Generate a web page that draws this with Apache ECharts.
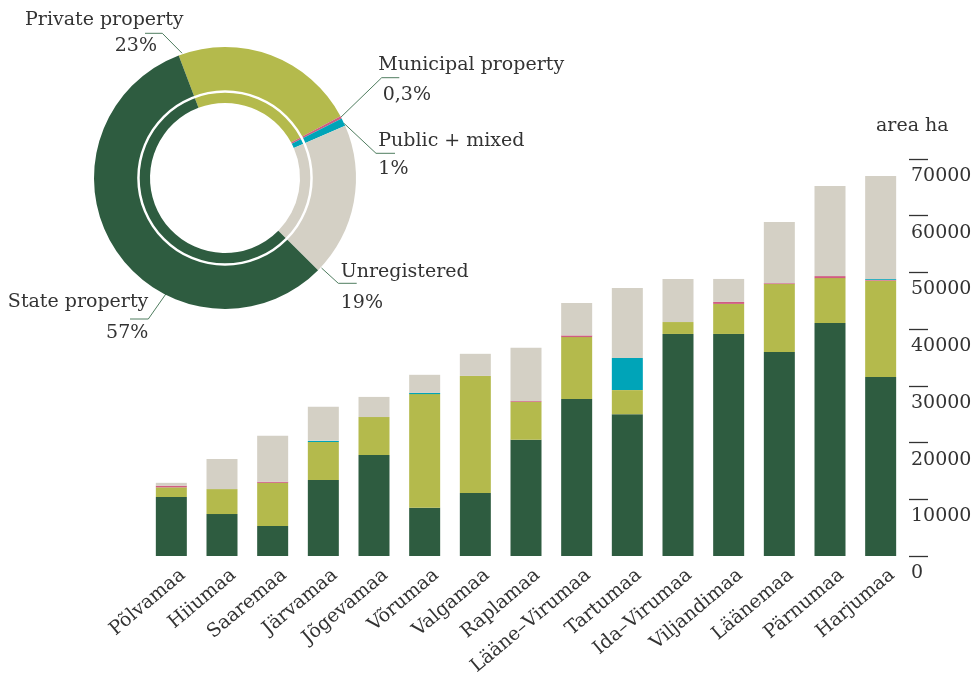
<!DOCTYPE html>
<html>
<head>
<meta charset="utf-8">
<script src="https://cdn.jsdelivr.net/npm/echarts@6/dist/echarts.min.js"></script>
<style>
  html, body { margin: 0; padding: 0; background: #ffffff; }
  #chart { width: 975px; height: 684px; }
</style>
</head>
<body>
<div id="chart"></div>
<script>
// Land area by ownership type in each county (hectares)
const counties = ['Põlvamaa', 'Hiiumaa', 'Saaremaa', 'Järvamaa', 'Jõgevamaa', 'Võrumaa', 'Valgamaa',
  'Raplamaa', 'Lääne–Virumaa', 'Tartumaa', 'Ida–Virumaa', 'Viljandimaa', 'Läänemaa', 'Pärnumaa', 'Harjumaa'];
const stateArea        = [10400, 7400, 5300, 13400, 17800, 8500, 11100, 20500, 27700, 25000, 39150, 39150, 35950, 41100, 31550];
const privateArea      = [1700, 4400, 7600, 6700, 6700, 20050, 20650, 6700, 10900, 4250, 2100, 5300, 12000, 7900, 17000];
const municipalArea    = [300, 0, 200, 0, 0, 0, 0, 150, 300, 0, 0, 350, 150, 350, 150];
const publicMixedArea  = [0, 0, 0, 200, 0, 200, 0, 0, 0, 5650, 0, 0, 0, 0, 150];
const unregisteredArea = [500, 5300, 8100, 6000, 3550, 3200, 3900, 9350, 5700, 12350, 7600, 4050, 10800, 15900, 18150];

// Overall ownership shares (%)
const ownershipNames  = ['Private property', 'Municipal property', 'Public + mixed', 'Unregistered', 'State property'];
const ownershipShares = [23, 0.3, 1, 19, 57];

// Value axis ticks
const areaTicks = [0, 10000, 20000, 30000, 40000, 50000, 60000, 70000];

const FONT = 'DejaVu Serif';
const TEXT = '#333333';
const COLORS = {
  state: '#2e5c40',
  private: '#b4ba4c',
  municipal: '#cf5d81',
  publicMixed: '#00a4b8',
  unregistered: '#d4d0c5'
};
const pieColors = [COLORS.private, COLORS.municipal, COLORS.publicMixed, COLORS.unregistered, COLORS.state];

// Donut geometry
const PIE_CX = 225, PIE_CY = 178, PIE_R0 = 75, PIE_R1 = 131;
function polar(angleDeg, r) {
  const a = angleDeg * Math.PI / 180;
  return [PIE_CX + r * Math.sin(a), PIE_CY - r * Math.cos(a)];
}

// Callout placement for each donut label (angle measured clockwise from 12 o'clock)
const callouts = [
  { angle: -19,  r: 132, x: 183.5, y: 7.5,   align: 'right', lh: 26,   pad: [0, 26.5, 0, 0], elbow: [162.3, 33.3], endX: 145 },
  { angle: 62.3, r: 131, x: 378.3, y: 50,    align: 'left',  lh: 30,   pad: [0, 0, 0, 4.4],  elbow: [381.7, 77.7], endX: 399.3 },
  { angle: 65.4, r: 131, x: 378.3, y: 126.6, align: 'left',  lh: 28.4, pad: [0, 0, 0, 0],    elbow: [376, 153.3],  endX: 395 },
  { angle: 133,  r: 132, x: 340.7, y: 257,   align: 'left',  lh: 31,   pad: [0, 0, 0, 0],    elbow: [338.3, 283.3], endX: 356.7 },
  { angle: 207,  r: 130, x: 148.3, y: 286.2, align: 'right', lh: 31,   pad: [0, 0, 0, 0],    elbow: [148.3, 319],  endX: 130 }
];

function pct(v) { return String(v).replace('.', ',') + '%'; }

const chart = echarts.init(document.getElementById('chart'), null, { renderer: 'canvas' });

function barSeries(name, data, color) {
  return {
    name: name,
    type: 'bar',
    stack: 'area',
    barWidth: 31,
    data: data,
    itemStyle: { color: color },
    silent: true
  };
}

const option = {
  backgroundColor: '#ffffff',
  animation: false,
  textStyle: { fontFamily: FONT, color: TEXT },
  title: {
    text: 'area ha',
    left: 871,
    top: 112,
    textStyle: { fontFamily: FONT, fontSize: 19, fontWeight: 'normal', color: TEXT }
  },
  grid: { left: 146, right: 69, top: 159, bottom: 128, outerBoundsMode: 'none' },
  xAxis: {
    type: 'category',
    data: counties,
    axisLine: { show: false },
    axisTick: { show: false },
    axisLabel: {
      interval: 0,
      rotate: 40,
      margin: 3,
      align: 'right',
      verticalAlign: 'top',
      lineHeight: 36,
      fontFamily: FONT,
      fontSize: 19,
      color: TEXT
    }
  },
  yAxis: {
    type: 'value',
    position: 'right',
    offset: 3,
    min: areaTicks[0],
    max: areaTicks[areaTicks.length - 1],
    interval: areaTicks[1] - areaTicks[0],
    axisLine: { show: false },
    splitLine: { show: false },
    axisTick: { show: true, length: 19, lineStyle: { color: TEXT, width: 1.3 } },
    axisLabel: {
      margin: 2,
      align: 'left',
      verticalAlign: 'top',
      lineHeight: 20,
      padding: [7, 0, 0, 0],
      fontFamily: FONT,
      fontSize: 19,
      color: TEXT,
      formatter: v => String(v)
    }
  },
  series: [
    barSeries('State property', stateArea, COLORS.state),
    barSeries('Private property', privateArea, COLORS.private),
    barSeries('Municipal property', municipalArea, COLORS.municipal),
    barSeries('Public + mixed', publicMixedArea, COLORS.publicMixed),
    barSeries('Unregistered', unregisteredArea, COLORS.unregistered),
    {
      name: 'Ownership',
      type: 'pie',
      center: [PIE_CX, PIE_CY],
      radius: [PIE_R0, PIE_R1],
      startAngle: 110.7,
      clockwise: true,
      avoidLabelOverlap: false,
      silent: true,
      itemStyle: { borderWidth: 0 },
      data: ownershipNames.map((n, i) => ({
        name: n,
        value: ownershipShares[i],
        itemStyle: { color: pieColors[i], borderWidth: 0 },
        label: {
          rich: {
            n: { lineHeight: callouts[i].lh, fontSize: 19, fontFamily: FONT, color: TEXT },
            v: { lineHeight: callouts[i].lh, fontSize: 19, fontFamily: FONT, color: TEXT, padding: callouts[i].pad }
          }
        }
      })),
      label: {
        show: true,
        position: 'outside',
        fontFamily: FONT,
        fontSize: 19,
        color: TEXT,
        formatter: p => '{n|' + p.name + '}\n{v|' + pct(p.value) + '}'
      },
      labelLine: {
        show: true,
        length: 10,
        length2: 10,
        smooth: false,
        lineStyle: { color: '#4f7d5f', width: 1 }
      },
      labelLayout: function (params) {
        const c = callouts[params.dataIndex];
        return {
          x: c.x,
          y: c.y,
          align: c.align,
          verticalAlign: 'top',
          labelLinePoints: [polar(c.angle, c.r), c.elbow, [c.endX, c.elbow[1]]]
        };
      }
    },
    {
      // thin white ring inside the donut
      name: 'separator',
      type: 'pie',
      center: [PIE_CX, PIE_CY],
      radius: [85.3, 87.8],
      silent: true,
      z: 5,
      label: { show: false },
      labelLine: { show: false },
      itemStyle: { color: '#ffffff', borderWidth: 0 },
      data: [{ value: 1, name: '' }]
    }
  ]
};

chart.setOption(option);
</script>
</body>
</html>
